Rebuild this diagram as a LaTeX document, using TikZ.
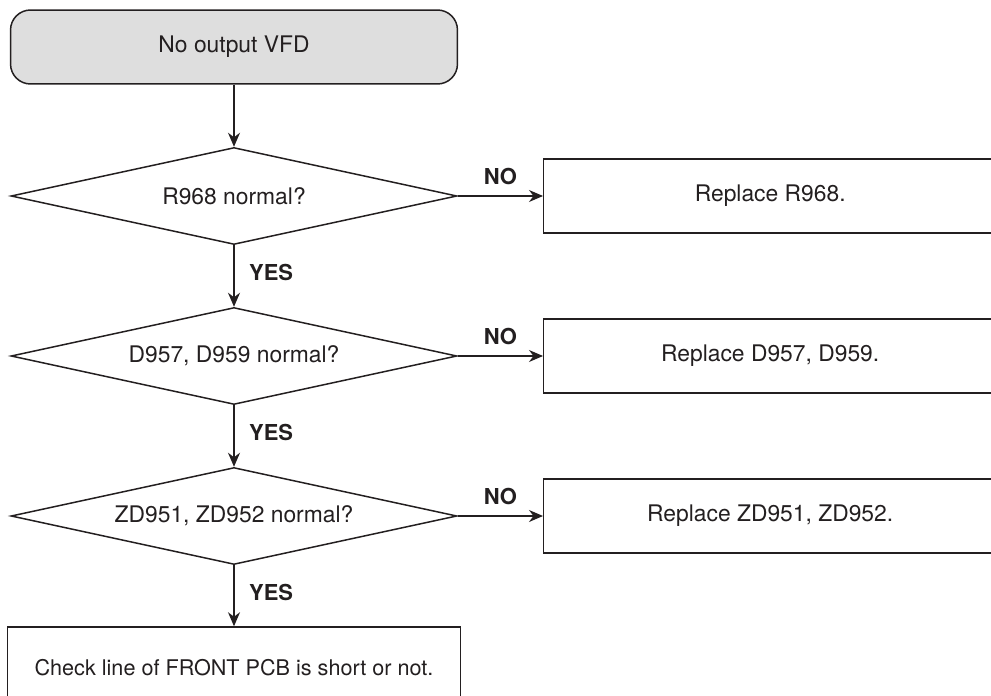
\documentclass[tikz,border=0pt]{standalone}
\usepackage{fontspec}
\setmainfont{TeX Gyre Heros}
\usetikzlibrary{shapes.geometric,arrows.meta}
\definecolor{ink}{HTML}{231F20}
\definecolor{startgray}{HTML}{DEDEDE}
\begin{document}
\begin{tikzpicture}[x=0.02cm,y=-0.02cm,line width=0.85pt,color=ink,
		>={Stealth[length=2.8mm,width=2.4mm,inset=0.9mm]},
		every node/.style={font=\fontsize{13}{15}\selectfont},
		term/.style={draw,fill=startgray,rounded corners=0.4cm,minimum width=8.94cm,minimum height=1.48cm},
		check/.style={draw,diamond,shape aspect=4.6,inner sep=0pt,minimum width=8.92cm,minimum height=1.94cm},
		fix/.style={draw,rectangle,anchor=west,minimum width=9.06cm,minimum height=1.48cm},
		answer/.style={font=\bfseries\fontsize{12.5}{15}\selectfont}]
				% the page, the boxes on the right run off its edge
				\useasboundingbox (0,0) rectangle (991,696);
				\clip (0,0) rectangle (991,696);

				% draw the start and the three checks
				\node[term] (start) at (234,47) {No output VFD};
				\node[check] (r968) at (234,196) {R968 normal?};
				\node[check] (d957) at (234,356) {D957, D959 normal?};
				\node[check] (zd951) at (234,516) {ZD951, ZD952 normal?};

				% draw what to replace
				\node[fix] (fixr968) at (543,196) {Replace R968.};
				\node[fix] (fixd957) at (543,356) {Replace D957, D959.};
				\node[fix] (fixzd951) at (543,516) {Replace ZD951, ZD952.};

				% draw the last step
				\node[draw,minimum width=9.06cm,minimum height=1.64cm,font=\fontsize{12.3}{15}\selectfont]
					(front) at (234,668) {Check line of FRONT PCB is short or not.};

				% the YES path goes down
				\draw[->] (start) -- (r968);
				\foreach \a/\b in {r968/d957,d957/zd951,zd951/front}
					\draw[->] (\a) -- node[answer,right=0.17cm,pos=0.45] {YES} (\b);

				% the NO path goes right
				\foreach \a/\b in {r968/fixr968,d957/fixd957,zd951/fixzd951}
					\draw[->] (\a.east) -- node[answer,above=1mm] {NO} (\b.west);
			\end{tikzpicture}
\end{document}
